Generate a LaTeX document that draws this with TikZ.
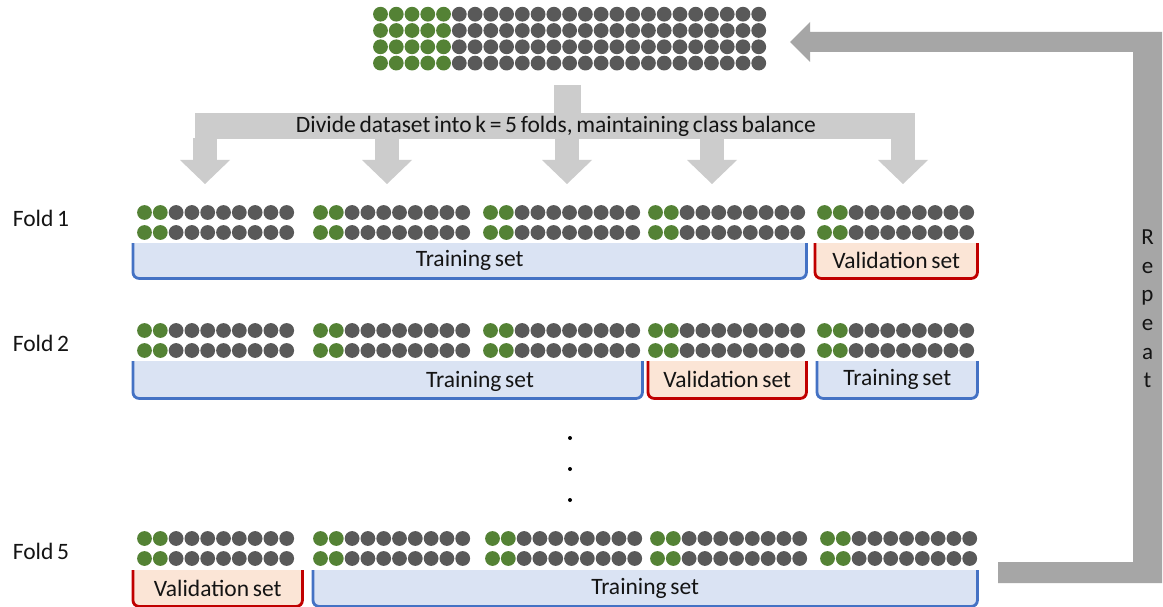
\documentclass[tikz,border=0pt]{standalone}
\usepackage{fontspec}
\setmainfont{Carlito}[WordSpace={0.7,0.3,0.3}]
\definecolor{dgreen}{RGB}{84,130,53}
\definecolor{dgray}{RGB}{89,89,89}
\definecolor{lgray}{RGB}{204,204,204}
\definecolor{mgray}{RGB}{166,166,166}
\definecolor{tblue}{RGB}{68,114,196}
\definecolor{tbluef}{RGB}{218,227,243}
\definecolor{vred}{RGB}{192,0,0}
\definecolor{vredf}{RGB}{251,229,214}
\definecolor{txt}{RGB}{20,20,20}
\tikzset{
  lbl/.style={font=\fontsize{23.5}{28}\selectfont, text=txt, inner sep=0pt},
  trainbox/.style={fill=tbluef, inner sep=0pt, font=\fontsize{23.5}{28}\selectfont, text=txt, anchor=north west},
  valbox/.style={fill=vredf, inner sep=0pt, font=\fontsize{23.5}{28}\selectfont, text=txt, anchor=north west},
  trainedge/.style={draw=tblue, line width=2.8pt, rounded corners=6pt},
  valedge/.style={draw=vred, line width=2.8pt, rounded corners=6pt},
  splitarrow/.style={fill=lgray},
  repeatarrow/.style={fill=mgray},
  greendot/.style={fill=dgreen},
  graydot/.style={fill=dgray},
}
\newcommand\dotgroup[3]{%
  \foreach \jj in {0,1}{%
    \foreach \ii in {0,1}{\fill[greendot] ({#1+7.5+15.8*\ii},{#2+20*\jj}) circle (7.4);}
    \foreach \ii in {2,...,9}{\fill[graydot] ({#1+7.5+15.8*\ii},{#2+20*\jj}) circle (7.4);}
  }%
  \coordinate (#3) at ({#1+79},{#2+10});
}
\newcommand\ushape[2]{\draw[#2] (#1.north west) -- (#1.south west) -- (#1.south east) -- (#1.north east);}
\begin{document}
\begin{tikzpicture}[x=1pt,y=-1pt]
\useasboundingbox[fill=white] (0,0) rectangle (1163,607);

% full dataset
\foreach \jj in {0,...,3}{%
  \foreach \ii in {0,...,4}{\fill[greendot] ({373+7.5+15.76*\ii},{14.2+16.3*\jj}) circle (7.4);}
  \foreach \ii in {5,...,24}{\fill[graydot] ({373+7.5+15.76*\ii},{14.2+16.3*\jj}) circle (7.4);}
}
\coordinate (dataset) at (570,38);

% split arrow
\coordinate (stemtop) at (567.5,85);
\fill[splitarrow] ([xshift=-13.5]stemtop) rectangle ++(27,28);
\fill[splitarrow] (195,113) rectangle (915,139);
\foreach \cc in {205,387,567,712,903}{%
  \fill[splitarrow] ({\cc-12},138) rectangle ({\cc+12},161);
  \fill[splitarrow] ({\cc-25},160) -- ({\cc+25},160) -- (\cc,184) -- cycle;
}
\node[lbl] (divide) at (556,126) {Divide dataset into k = 5 folds, maintaining class balance};

% fold labels
\node[lbl] (fold1) at (41,218) {Fold 1};
\node[lbl] (fold2) at (41,343) {Fold 2};
\node[lbl] (fold5) at (41,551) {Fold 5};

% fold 1
\dotgroup{137}{212.5}{a1}\dotgroup{313}{212.5}{a2}\dotgroup{483}{212.5}{a3}\dotgroup{648}{212.5}{a4}\dotgroup{817}{212.5}{a5}
\node[trainbox, minimum width=673pt, minimum height=35pt] (f1t) at (133,243) {Training set};
\node[valbox, minimum width=162pt, minimum height=35pt] (f1v) at (815,243) {Validation set};
\ushape{f1t}{trainedge}
\ushape{f1v}{valedge}

% fold 2
\dotgroup{137}{330.5}{b1}\dotgroup{313}{330.5}{b2}\dotgroup{483}{330.5}{b3}\dotgroup{648}{330.5}{b4}\dotgroup{817}{330.5}{b5}
\node[trainbox, minimum width=509pt, minimum height=37pt] (f2t) at (133,361) {};
\node[lbl] (f2tl) at (480,381) {Training set};
\node[valbox, minimum width=158pt, minimum height=37pt] (f2v) at (648,361) {Validation set};
\node[trainbox, minimum width=160pt, minimum height=37pt] (f2t2) at (817,361) {Training set};
\ushape{f2t}{trainedge}
\ushape{f2v}{valedge}
\ushape{f2t2}{trainedge}

% ellipsis
\node[circle, fill=black, inner sep=0pt, minimum size=4pt] (d1) at (570,438) {};
\node[circle, fill=black, inner sep=0pt, minimum size=4pt] (d2) at (570,469) {};
\node[circle, fill=black, inner sep=0pt, minimum size=4pt] (d3) at (570,500) {};

% fold 5
\dotgroup{137}{538.5}{c1}\dotgroup{313}{538.5}{c2}\dotgroup{485}{538.5}{c3}\dotgroup{650}{538.5}{c4}\dotgroup{820}{538.5}{c5}
\node[valbox, minimum width=169pt, minimum height=36pt] (f5v) at (133,570) {Validation set};
\node[trainbox, minimum width=664pt, minimum height=36pt] (f5t) at (313,570) {Training set};
\ushape{f5v}{valedge}
\ushape{f5t}{trainedge}

% repeat arrow
\coordinate (rstart) at (998,562);
\coordinate (rtip) at (790,42);
\fill[repeatarrow] (rstart) -- (1133,562) -- (1133,52) -- (810,52) -- (810,62) -- (rtip)
  -- (810,22) -- (810,32) -- (1162,32) -- (1162,583) -- (998,583) -- cycle;
\node[lbl, align=center, font=\fontsize{23}{28.6}\selectfont] (rep) at (1147.5,309) {R\\e\\p\\e\\a\\t};
\end{tikzpicture}
\end{document}
